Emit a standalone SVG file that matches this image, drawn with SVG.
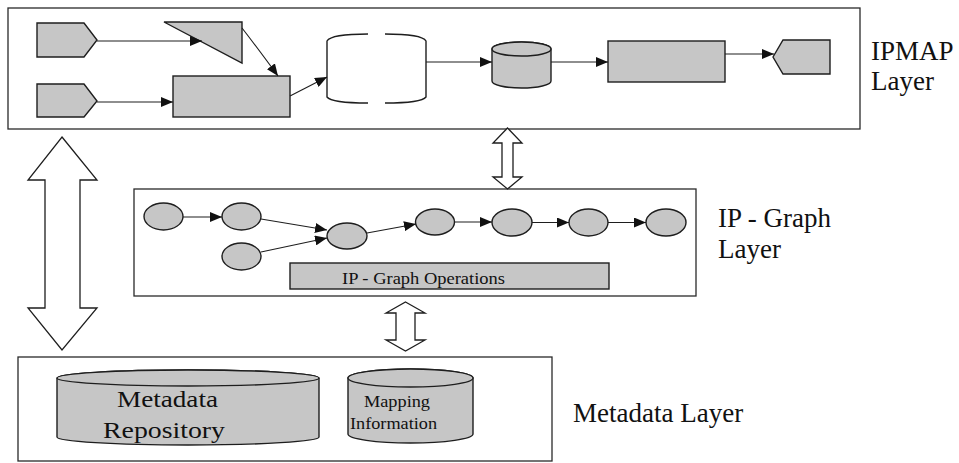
<svg xmlns="http://www.w3.org/2000/svg" width="959" height="463" viewBox="0 0 959 463">
  <style>
    .layer { fill: #ffffff; stroke: #2a2a2a; stroke-width: 1.3; }
    .shape { fill: #c6c6c6; stroke: #1e1e1e; stroke-width: 1.4; }
    .open { fill: none; stroke: #1e1e1e; stroke-width: 1.4; }
    .edge { fill: none; stroke: #1e1e1e; stroke-width: 1.1; marker-end: url(#head); }
    .bigarrow { fill: #ffffff; stroke: #1e1e1e; stroke-width: 1.3; stroke-linejoin: miter; }
    .label { fill: #111111; }
  </style>
  <defs>
    <marker id="head" markerUnits="userSpaceOnUse" markerWidth="13" markerHeight="10" refX="12" refY="5" orient="auto">
      <path d="M0,0 L12,5 L0,10 z" fill="#111111"/>
    </marker>
  </defs>

  <rect width="959" height="463" fill="#ffffff"/>

  <g font-family="'Liberation Serif', 'Times New Roman', 'DejaVu Serif', serif">
  <!-- layer frames -->
  <g id="ipmap-layer">
    <rect class="layer" x="8" y="8" width="852" height="121"/>
    <text class="label" x="871" y="60" font-size="27">IPMAP</text>
    <text class="label" x="871" y="90" font-size="27">Layer</text>
  </g>
  <g id="ipgraph-layer">
    <rect class="layer" x="134" y="189" width="562" height="107"/>
    <text class="label" x="718" y="227" font-size="27">IP - Graph</text>
    <text class="label" x="718" y="258" font-size="27">Layer</text>
  </g>
  <g id="metadata-layer">
    <rect class="layer" x="18" y="357" width="534" height="104"/>
    <text class="label" x="573" y="422" font-size="27">Metadata Layer</text>
  </g>

  <!-- IPMAP elements -->
  <g id="source-1"><polygon class="shape" points="37,23 84,23 97,40 84,57 37,57"/></g>
  <g id="source-2"><polygon class="shape" points="37,84 84,84 97,101 84,117 37,117"/></g>
  <g id="decision"><polygon class="shape" points="164,22 242,22 242,63"/></g>
  <g id="process-1"><rect class="shape" x="173" y="76" width="117" height="41"/></g>
  <g id="boundary">
    <path class="open" d="M368,34 C345,34 330,36 327,41 L327,97 C330,101 345,103 368,103"/>
    <path class="open" d="M385,34 C408,34 423,36 426,41 L426,97 C423,101 408,103 385,103"/>
  </g>
  <g id="store">
    <path class="shape" d="M492,49 L492,81 A29.5,7 0 0 0 551,81 L551,49 A29.5,7 0 0 0 492,49 z"/>
    <ellipse class="shape" cx="521.5" cy="49" rx="29.5" ry="7"/>
  </g>
  <g id="process-2"><rect class="shape" x="608" y="41" width="117" height="41"/></g>
  <g id="sink"><polygon class="shape" points="773,57 783,40 830,40 830,74 783,74"/></g>

  <!-- IP-Graph elements -->
  <g id="v1"><ellipse class="shape" cx="163.5" cy="216.5" rx="19.5" ry="13.5"/></g>
  <g id="v2"><ellipse class="shape" cx="241.5" cy="216.5" rx="19.5" ry="13.5"/></g>
  <g id="v3"><ellipse class="shape" cx="241.5" cy="256.5" rx="19.5" ry="13.5"/></g>
  <g id="v4"><ellipse class="shape" cx="347" cy="236" rx="20" ry="13"/></g>
  <g id="v5"><ellipse class="shape" cx="435" cy="222" rx="19.5" ry="13"/></g>
  <g id="v6"><ellipse class="shape" cx="512" cy="222.5" rx="20" ry="13.5"/></g>
  <g id="v7"><ellipse class="shape" cx="588.5" cy="222.5" rx="19.5" ry="13.5"/></g>
  <g id="v8"><ellipse class="shape" cx="666" cy="222.5" rx="20" ry="13.5"/></g>
  <g id="graph-operations">
    <rect class="shape" x="290" y="263" width="319" height="26"/>
    <text class="label" x="342" y="284" font-size="16" textLength="163" lengthAdjust="spacingAndGlyphs">IP - Graph Operations</text>
  </g>

  <!-- Metadata elements -->
  <g id="metadata-repository">
    <path class="shape" d="M57,378 L57,437 A131,8 0 0 0 319,437 L319,378 A131,8 0 0 0 57,378 z"/>
    <ellipse class="shape" cx="188" cy="378" rx="131" ry="8"/>
    <text class="label" x="117" y="407" font-size="24" textLength="101" lengthAdjust="spacingAndGlyphs">Metadata</text>
    <text class="label" x="103" y="438" font-size="24" textLength="122" lengthAdjust="spacingAndGlyphs">Repository</text>
  </g>
  <g id="mapping-information">
    <path class="shape" d="M348,378 L348,434 A62.5,9 0 0 0 473,434 L473,378 A62.5,9 0 0 0 348,378 z"/>
    <ellipse class="shape" cx="410.5" cy="378" rx="62.5" ry="9"/>
    <text class="label" x="364" y="407" font-size="16" textLength="66" lengthAdjust="spacingAndGlyphs">Mapping</text>
    <text class="label" x="350" y="429" font-size="16" textLength="87" lengthAdjust="spacingAndGlyphs">Information</text>
  </g>
  </g>

  <!-- connectors -->
  <g id="connectors">
    <path class="edge" d="M97,41 L202,41"/>
    <path class="edge" d="M97,102 L173,102"/>
    <path class="edge" d="M242,28 Q256,46 278,76"/>
    <path class="edge" d="M290,96 L327,77"/>
    <path class="edge" d="M426,62 L492,62"/>
    <path class="edge" d="M551,62 L608,62"/>
    <path class="edge" d="M725,54 L774,54"/>

    <path class="edge" d="M183,217 L222,217"/>
    <path class="edge" d="M261,219 L327,230"/>
    <path class="edge" d="M261,252 L327,238"/>
    <path class="edge" d="M367,233 L416,224"/>
    <path class="edge" d="M454.5,222 L492,222"/>
    <path class="edge" d="M532,222.5 L569,222.5"/>
    <path class="edge" d="M608,222.5 L646,222.5"/>

    <!-- hollow double-headed arrows between layers -->
    <polygon class="bigarrow" points="62,137 97,180 80,180 80,308 97,308 62,350 28,308 45,308 45,180 28,180"/>
    <polygon class="bigarrow" points="507.5,128 522,143 513,143 513,177 522,177 507.5,189 493,177 502,177 502,143 493,143"/>
    <polygon class="bigarrow" points="405.5,302 425,313 415,313 415,340 425,340 405.5,351 386,340 396,340 396,313 386,313"/>
  </g>
</svg>
